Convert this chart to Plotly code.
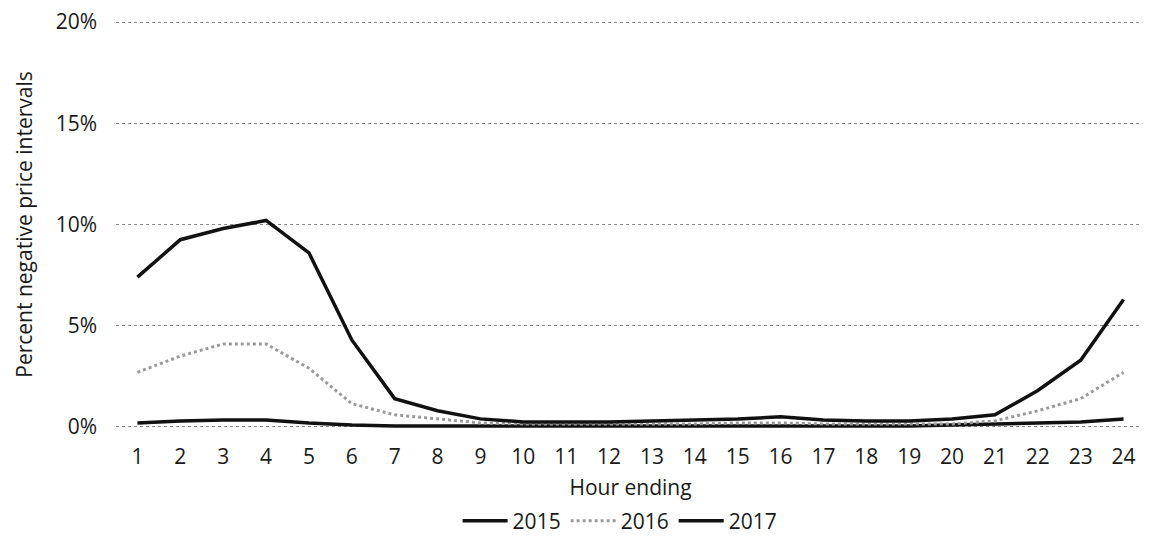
import plotly.graph_objects as go

hours = [str(h) for h in range(1, 25)]
y2015 = [0.2, 0.3, 0.35, 0.35, 0.2, 0.1, 0.05, 0.05, 0.05, 0.05, 0.05, 0.05,
         0.05, 0.05, 0.05, 0.05, 0.05, 0.05, 0.05, 0.1, 0.15, 0.2, 0.25, 0.4]
y2016 = [2.7, 3.5, 4.1, 4.1, 2.9, 1.15, 0.6, 0.4, 0.2, 0.15, 0.15, 0.15,
         0.15, 0.15, 0.2, 0.2, 0.15, 0.15, 0.15, 0.15, 0.3, 0.8, 1.4, 2.7]
y2017 = [7.4, 9.25, 9.8, 10.2, 8.6, 4.3, 1.4, 0.8, 0.4, 0.25, 0.25, 0.25,
         0.3, 0.35, 0.4, 0.5, 0.35, 0.3, 0.3, 0.4, 0.6, 1.8, 3.3, 6.3]
yticks = [0, 5, 10, 15, 20]
ytick_labels = ["0%", "5%", "10%", "15%", "20%"]

font = "Open Sans, sans-serif"
fs = 21
fig = go.Figure()
fig.add_trace(go.Scatter(x=hours, y=y2015, name="2015", mode="lines",
                         line=dict(color="#111111", width=3.5)))
fig.add_trace(go.Scatter(x=hours, y=y2016, name="2016", mode="lines",
                         line=dict(color="#9a9a9a", width=3, dash="dot")))
fig.add_trace(go.Scatter(x=hours, y=y2017, name="2017", mode="lines",
                         line=dict(color="#111111", width=3.5)))

fig.update_layout(
    width=1142, height=529,
    margin=dict(l=108, r=5, t=12, b=108, autoexpand=False),
    paper_bgcolor="white", plot_bgcolor="white",
    font=dict(family=font, size=fs, color="#1a1a1a"),
    showlegend=True,
    legend=dict(orientation="h", xref="container", yref="container",
                x=0.536, xanchor="center", y=0.03, yanchor="middle",
                font=dict(size=fs), tracegroupgap=0, itemwidth=45),
    xaxis=dict(type="category", range=[-0.5, 23.5], showgrid=False, zeroline=False,
               showline=False, ticks="", tickfont=dict(size=fs),
               ticklabelstandoff=13,
               title=dict(text="Hour ending", font=dict(size=fs), standoff=20)),
    yaxis=dict(range=[-0.1, 20.1], tickvals=yticks, ticktext=ytick_labels,
               showgrid=True, gridcolor="#8a8a8a", griddash="dot", gridwidth=1,
               zeroline=False, showline=False, ticks="", tickfont=dict(size=fs),
               ticklabelstandoff=18, ticklabeloverflow="allow",
               title=dict(text="Percent negative price intervals", font=dict(size=fs),
                          standoff=17)),
)
fig.write_html("out.html")
